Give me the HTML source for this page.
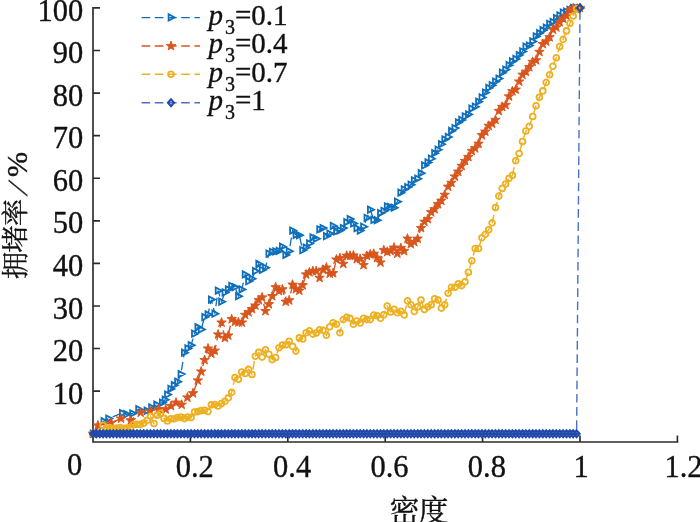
<!DOCTYPE html>
<html lang="zh">
<head>
<meta charset="utf-8">
<title>拥堵率 / 密度</title>
<style>
html,body{margin:0;padding:0;background:#fff}
body{width:700px;height:522px;overflow:hidden}
svg{display:block;will-change:transform;opacity:.999}
</style>
</head>
<body>
<svg width="700" height="522" viewBox="0 0 700 522" role="img">
<rect width="700" height="522" fill="#fff"/>
<g stroke="#2b2b2b" stroke-width="1.65" fill="none" stroke-linecap="butt">
<path d="M93 7.0V442 H678.3"/>
<path d="M93 391.1h7M93 348.5h7M93 306h7M93 263.4h7M93 220.8h7M93 178.2h7M93 135.6h7M93 93.1h7M93 50.5h7M93 7.9h7M190.4 442v-6.5M287.8 442v-6.5M385.2 442v-6.5M482.6 442v-6.5M580 442v-6.5M677.4 442v-6.5"/>
</g>
<g fill="none" stroke="#0f6fba">
<polyline points="93,433.7 103.9,421.1 108.6,418.6 122.3,413 126.6,414.3 132.6,413.4 138.6,409.1 147,410.7 151.5,407.3 156.6,404.7 162.3,402.6 165,399.6 167.4,394.5 170.8,389 174.2,385.1 177.5,381.8 180.9,374.1 184.3,352.8 187.7,348.4 191.1,345.1 194.5,333.6 197.8,327.2 201.2,329.4 204.6,317 208,314.4 211.4,299.6 214.8,313.6 218.1,290.6 221.5,301.7 224.9,292.4 228.3,289.4 231.7,285.9 235,287 238.4,296.2 241.8,289.4 245.2,274.5 248.6,281.3 252,278.8 255.3,271 258.7,263.8 262.1,269.9 265.5,267.6 268.9,253.6 272.2,251.9 275.6,251.5 279,250.9 282.4,246.8 285.8,254.9 289.2,251.2 292.5,230.6 295.9,234.8 299.3,235.3 302.7,250.2 306.1,247.5 309.4,243.4 312.8,237.4 316.2,238.7 319.6,229.3 323,228 326.4,236.1 329.7,233.5 333.1,225.9 336.5,231.4 339.9,230.3 343.3,228 346.6,222.2 350,219.1 353.4,223.4 356.8,228.3 360.2,230.6 363.6,226.6 366.9,217.8 370.3,209.7 373.7,219.9 377.1,220.1 380.5,213.1 383.8,210.9 387.2,206.3 390.6,207.2 394,207.8 397.4,201.6 400.8,192.7 404.1,189.5 407.5,187.1 410.9,184.6 414.3,180.5 417.7,178.6 421,173.1 424.4,165.4 427.8,162.5 431.2,158.6 434.6,153.2 438,149.7 441.3,144.3 444.7,139.5 448.1,136.9 451.5,131 454.9,128.1 458.2,122.4 461.6,120 465,116.5 468.4,114.3 471.8,108.6 475.2,106.7 478.5,101.8 481.9,97.3 485.3,92.5 488.7,88 492.1,85.1 495.5,81.6 498.8,78.6 502.2,72.6 505.6,69.6 509,65.2 512.4,61.5 515.7,59 519.1,55 522.5,51.4 525.9,46.6 529.3,45.5 532.7,41.3 536,36.4 539.4,33 542.8,30.3 546.2,27.7 549.6,23.8 552.9,22 556.3,18 559.7,15.5 563.1,12.6 566.5,11.6 569.9,9.9 573.2,7.9 576.6,7.9 580,7.9" stroke="#0f6fba" stroke-width="1.3" stroke-dasharray="8.6 4.6"/>
<path d="M90.6 430.6l0 6.3l6.1 -3.1zM101.5 418l0 6.3l6.1 -3.1zM106.2 415.4l0 6.3l6.1 -3.1zM119.9 409.9l0 6.3l6.1 -3.1zM124.2 411.1l0 6.3l6.1 -3.1zM130.2 410.3l0 6.3l6.1 -3.1zM136.2 406l0 6.3l6.1 -3.1zM144.6 407.6l0 6.3l6.1 -3.1zM149.1 404.2l0 6.3l6.1 -3.1zM154.2 401.6l0 6.3l6.1 -3.1zM159.9 399.5l0 6.3l6.1 -3.1zM162.6 396.5l0 6.3l6.1 -3.1zM165 391.4l0 6.3l6.1 -3.1zM168.3 385.8l0 6.3l6.1 -3.1zM171.7 382l0 6.3l6.1 -3.1zM175.1 378.6l0 6.3l6.1 -3.1zM178.5 370.9l0 6.3l6.1 -3.1zM181.9 349.6l0 6.3l6.1 -3.1zM185.3 345.3l0 6.3l6.1 -3.1zM188.6 342l0 6.3l6.1 -3.1zM192 330.5l0 6.3l6.1 -3.1zM195.4 324.1l0 6.3l6.1 -3.1zM198.8 326.2l0 6.3l6.1 -3.1zM202.2 313.9l0 6.3l6.1 -3.1zM205.5 311.3l0 6.3l6.1 -3.1zM208.9 296.4l0 6.3l6.1 -3.1zM212.3 310.5l0 6.3l6.1 -3.1zM215.7 287.5l0 6.3l6.1 -3.1zM219.1 298.6l0 6.3l6.1 -3.1zM222.5 289.2l0 6.3l6.1 -3.1zM225.8 286.2l0 6.3l6.1 -3.1zM229.2 282.8l0 6.3l6.1 -3.1zM232.6 283.9l0 6.3l6.1 -3.1zM236 293l0 6.3l6.1 -3.1zM239.4 286.2l0 6.3l6.1 -3.1zM242.7 271.3l0 6.3l6.1 -3.1zM246.1 278.1l0 6.3l6.1 -3.1zM249.5 275.6l0 6.3l6.1 -3.1zM252.9 267.9l0 6.3l6.1 -3.1zM256.3 260.7l0 6.3l6.1 -3.1zM259.7 266.8l0 6.3l6.1 -3.1zM263 264.5l0 6.3l6.1 -3.1zM266.4 250.4l0 6.3l6.1 -3.1zM269.8 248.8l0 6.3l6.1 -3.1zM273.2 248.3l0 6.3l6.1 -3.1zM276.6 247.7l0 6.3l6.1 -3.1zM279.9 243.6l0 6.3l6.1 -3.1zM283.3 251.7l0 6.3l6.1 -3.1zM286.7 248l0 6.3l6.1 -3.1zM290.1 227.4l0 6.3l6.1 -3.1zM293.5 231.7l0 6.3l6.1 -3.1zM296.9 232.1l0 6.3l6.1 -3.1zM300.2 247l0 6.3l6.1 -3.1zM303.6 244.4l0 6.3l6.1 -3.1zM307 240.2l0 6.3l6.1 -3.1zM310.4 234.3l0 6.3l6.1 -3.1zM313.8 235.6l0 6.3l6.1 -3.1zM317.2 226.2l0 6.3l6.1 -3.1zM320.5 224.9l0 6.3l6.1 -3.1zM323.9 233l0 6.3l6.1 -3.1zM327.3 230.4l0 6.3l6.1 -3.1zM330.7 222.8l0 6.3l6.1 -3.1zM334.1 228.3l0 6.3l6.1 -3.1zM337.4 227.2l0 6.3l6.1 -3.1zM340.8 224.9l0 6.3l6.1 -3.1zM344.2 219.1l0 6.3l6.1 -3.1zM347.6 215.9l0 6.3l6.1 -3.1zM351 220.2l0 6.3l6.1 -3.1zM354.4 225.1l0 6.3l6.1 -3.1zM357.7 227.4l0 6.3l6.1 -3.1zM361.1 223.5l0 6.3l6.1 -3.1zM364.5 214.7l0 6.3l6.1 -3.1zM367.9 206.6l0 6.3l6.1 -3.1zM371.3 216.8l0 6.3l6.1 -3.1zM374.6 217l0 6.3l6.1 -3.1zM378 210l0 6.3l6.1 -3.1zM381.4 207.7l0 6.3l6.1 -3.1zM384.8 203.2l0 6.3l6.1 -3.1zM388.2 204l0 6.3l6.1 -3.1zM391.6 204.6l0 6.3l6.1 -3.1zM394.9 198.5l0 6.3l6.1 -3.1zM398.3 189.5l0 6.3l6.1 -3.1zM401.7 186.3l0 6.3l6.1 -3.1zM405.1 184l0 6.3l6.1 -3.1zM408.5 181.5l0 6.3l6.1 -3.1zM411.8 177.3l0 6.3l6.1 -3.1zM415.2 175.5l0 6.3l6.1 -3.1zM418.6 170l0 6.3l6.1 -3.1zM422 162.3l0 6.3l6.1 -3.1zM425.4 159.3l0 6.3l6.1 -3.1zM428.8 155.5l0 6.3l6.1 -3.1zM432.1 150l0 6.3l6.1 -3.1zM435.5 146.5l0 6.3l6.1 -3.1zM438.9 141.1l0 6.3l6.1 -3.1zM442.3 136.3l0 6.3l6.1 -3.1zM445.7 133.7l0 6.3l6.1 -3.1zM449 127.8l0 6.3l6.1 -3.1zM452.4 124.9l0 6.3l6.1 -3.1zM455.8 119.3l0 6.3l6.1 -3.1zM459.2 116.8l0 6.3l6.1 -3.1zM462.6 113.3l0 6.3l6.1 -3.1zM466 111.2l0 6.3l6.1 -3.1zM469.3 105.5l0 6.3l6.1 -3.1zM472.7 103.5l0 6.3l6.1 -3.1zM476.1 98.6l0 6.3l6.1 -3.1zM479.5 94.2l0 6.3l6.1 -3.1zM482.9 89.4l0 6.3l6.1 -3.1zM486.2 84.8l0 6.3l6.1 -3.1zM489.6 82l0 6.3l6.1 -3.1zM493 78.4l0 6.3l6.1 -3.1zM496.4 75.4l0 6.3l6.1 -3.1zM499.8 69.5l0 6.3l6.1 -3.1zM503.2 66.4l0 6.3l6.1 -3.1zM506.5 62l0 6.3l6.1 -3.1zM509.9 58.3l0 6.3l6.1 -3.1zM513.3 55.8l0 6.3l6.1 -3.1zM516.7 51.9l0 6.3l6.1 -3.1zM520.1 48.3l0 6.3l6.1 -3.1zM523.4 43.5l0 6.3l6.1 -3.1zM526.8 42.4l0 6.3l6.1 -3.1zM530.2 38.2l0 6.3l6.1 -3.1zM533.6 33.2l0 6.3l6.1 -3.1zM537 29.9l0 6.3l6.1 -3.1zM540.4 27.1l0 6.3l6.1 -3.1zM543.7 24.6l0 6.3l6.1 -3.1zM547.1 20.7l0 6.3l6.1 -3.1zM550.5 18.8l0 6.3l6.1 -3.1zM553.9 14.9l0 6.3l6.1 -3.1zM557.3 12.3l0 6.3l6.1 -3.1zM560.7 9.4l0 6.3l6.1 -3.1zM564 8.5l0 6.3l6.1 -3.1zM567.4 6.7l0 6.3l6.1 -3.1zM570.8 4.7l0 6.3l6.1 -3.1zM574.2 4.7l0 6.3l6.1 -3.1zM577.6 4.7l0 6.3l6.1 -3.1z" stroke-width="1.8" stroke-linejoin="miter" fill="none"/>
</g>
<g fill="none" stroke="#d8551c">
<polyline points="93,433.7 97.9,425.4 111.1,422.8 121,418.6 130.8,420.3 140.7,412.6 150,411.1 158.9,409 165.7,409.4 171,406 176,402.6 181.7,404.7 187.4,397.5 193,393.2 197.8,380.5 201.2,371.5 204.6,360 208,348.5 211.4,353.7 214.8,350.7 218.1,334.5 221.5,322.6 224.9,337.9 228.3,335.5 231.7,319.2 235,321.8 238.4,322.3 241.8,322.6 245.2,314.9 248.6,312.3 252,309 255.3,305.5 258.7,300.1 262.1,297.4 265.5,311.1 268.9,304.3 272.2,296.2 275.6,287.2 279,291.1 282.4,289.4 285.8,301.7 289.2,300.3 292.5,284.7 295.9,289.1 299.3,290.6 302.7,285.2 306.1,274.5 309.4,272.3 312.8,271 316.2,271.1 319.6,277.9 323,269.7 326.4,267.6 329.7,273.6 333.1,273.2 336.5,259.5 339.9,258.1 343.3,263.8 346.6,255.7 350,255.7 353.4,255.5 356.8,259.1 360.2,258.9 363.6,265.1 366.9,255.9 370.3,254.4 373.7,253.8 377.1,257.8 380.5,262.5 383.8,250.2 387.2,251.9 390.6,251 394,247.6 397.4,253.6 400.8,248 404.1,251 407.5,238.7 410.9,244.1 414.3,242.1 417.7,238.7 421,228 424.4,221.8 427.8,219.1 431.2,212.3 434.6,209.2 438,204.2 441.3,200.6 444.7,194.8 448.1,186.7 451.5,182.8 454.9,176.5 458.2,171.6 461.6,165.9 465,161 468.4,156.9 471.8,151 475.2,148.3 478.5,143.7 481.9,135.2 485.3,131.6 488.7,125.8 492.1,123.7 495.5,119.9 498.8,110.9 502.2,106.8 505.6,105 509,96.5 512.4,91.3 515.7,89.7 519.1,81.6 522.5,74.8 525.9,71.8 529.3,67.1 532.7,61.9 536,60.3 539.4,51.9 542.8,44.1 546.2,41.6 549.6,37.2 552.9,29.6 556.3,27.4 559.7,22.1 563.1,18.5 566.5,15.8 569.9,10 573.2,8.5 576.6,9.3 580,7.9" stroke="#d8551c" stroke-width="1.4" stroke-dasharray="8.6 4.6"/>
<path d="M93 428.7L94.2 432.1L97.8 432.2L94.9 434.3L95.9 437.7L93 435.7L90.1 437.7L91.1 434.3L88.2 432.2L91.8 432.1zM97.9 420.4L99.1 423.8L102.7 423.9L99.8 426L100.8 429.4L97.9 427.4L95 429.4L96 426L93.1 423.9L96.7 423.8zM111.1 417.8L112.3 421.2L115.9 421.3L113 423.5L114 426.9L111.1 424.8L108.2 426.9L109.2 423.5L106.3 421.3L109.9 421.2zM121 413.6L122.2 417L125.8 417L122.9 419.2L123.9 422.6L121 420.6L118.1 422.6L119.1 419.2L116.2 417L119.8 417zM130.8 415.3L132 418.7L135.6 418.7L132.7 420.9L133.7 424.3L130.8 422.3L127.9 424.3L128.9 420.9L126 418.7L129.6 418.7zM140.7 407.6L141.9 411L145.5 411.1L142.6 413.2L143.6 416.7L140.7 414.6L137.8 416.7L138.8 413.2L135.9 411.1L139.5 411zM150 406.1L151.2 409.5L154.8 409.6L151.9 411.8L152.9 415.2L150 413.1L147.1 415.2L148.1 411.8L145.2 409.6L148.8 409.5zM158.9 404L160.1 407.4L163.7 407.5L160.8 409.6L161.8 413L158.9 411L156 413L157 409.6L154.1 407.5L157.7 407.4zM165.7 404.4L166.9 407.8L170.5 407.9L167.6 410L168.6 413.5L165.7 411.4L162.8 413.5L163.8 410L160.9 407.9L164.5 407.8zM171 401L172.2 404.4L175.8 404.5L172.9 406.6L173.9 410.1L171 408L168.1 410.1L169.1 406.6L166.2 404.5L169.8 404.4zM176 397.6L177.2 401L180.8 401.1L177.9 403.2L178.9 406.7L176 404.6L173.1 406.7L174.1 403.2L171.2 401.1L174.8 401zM181.7 399.7L182.9 403.1L186.5 403.2L183.6 405.4L184.6 408.8L181.7 406.7L178.8 408.8L179.8 405.4L176.9 403.2L180.5 403.1zM187.4 392.5L188.6 395.9L192.2 396L189.3 398.1L190.3 401.6L187.4 399.5L184.5 401.6L185.5 398.1L182.6 396L186.2 395.9zM193 388.2L194.2 391.6L197.8 391.7L194.9 393.9L195.9 397.3L193 395.2L190.1 397.3L191.1 393.9L188.2 391.7L191.8 391.6zM197.8 375.5L199 378.9L202.6 378.9L199.7 381.1L200.8 384.5L197.8 382.5L194.9 384.5L195.9 381.1L193.1 378.9L196.7 378.9zM201.2 366.5L202.4 369.9L206 370L203.1 372.2L204.2 375.6L201.2 373.5L198.3 375.6L199.3 372.2L196.5 370L200 369.9zM204.6 355L205.8 358.4L209.4 358.5L206.5 360.7L207.5 364.1L204.6 362L201.7 364.1L202.7 360.7L199.8 358.5L203.4 358.4zM208 343.5L209.2 346.9L212.7 347L209.9 349.2L210.9 352.6L208 350.5L205 352.6L206.1 349.2L203.2 347L206.8 346.9zM211.4 348.7L212.5 352.1L216.1 352.2L213.3 354.4L214.3 357.8L211.4 355.7L208.4 357.8L209.5 354.4L206.6 352.2L210.2 352.1zM214.8 345.7L215.9 349.1L219.5 349.1L216.7 351.3L217.7 354.7L214.8 352.7L211.8 354.7L212.8 351.3L210 349.1L213.6 349.1zM218.1 329.5L219.3 332.9L222.9 332.9L220 335.1L221.1 338.5L218.1 336.5L215.2 338.5L216.2 335.1L213.4 332.9L217 332.9zM221.5 317.6L222.7 320.9L226.3 321L223.4 323.2L224.5 326.6L221.5 324.6L218.6 326.6L219.6 323.2L216.8 321L220.3 320.9zM224.9 332.9L226.1 336.3L229.7 336.3L226.8 338.5L227.8 341.9L224.9 339.9L222 341.9L223 338.5L220.1 336.3L223.7 336.3zM228.3 330.5L229.5 333.9L233 334L230.2 336.2L231.2 339.6L228.3 337.5L225.3 339.6L226.4 336.2L223.5 334L227.1 333.9zM231.7 314.2L232.8 317.5L236.4 317.6L233.6 319.8L234.6 323.2L231.7 321.2L228.7 323.2L229.8 319.8L226.9 317.6L230.5 317.5zM235 316.8L236.2 320.2L239.8 320.2L236.9 322.4L238 325.8L235 323.8L232.1 325.8L233.1 322.4L230.3 320.2L233.9 320.2zM238.4 317.3L239.6 320.7L243.2 320.8L240.3 322.9L241.4 326.4L238.4 324.3L235.5 326.4L236.5 322.9L233.7 320.8L237.2 320.7zM241.8 317.6L243 320.9L246.6 321L243.7 323.2L244.7 326.6L241.8 324.6L238.9 326.6L239.9 323.2L237.1 321L240.6 320.9zM245.2 309.9L246.4 313.3L249.9 313.3L247.1 315.5L248.1 318.9L245.2 316.9L242.2 318.9L243.3 315.5L240.4 313.3L244 313.3zM248.6 307.3L249.7 310.7L253.3 310.8L250.5 313L251.5 316.4L248.6 314.3L245.6 316.4L246.7 313L243.8 310.8L247.4 310.7zM252 304L253.1 307.4L256.7 307.5L253.9 309.7L254.9 313.1L252 311L249 313.1L250 309.7L247.2 307.5L250.8 307.4zM255.3 300.5L256.5 303.9L260.1 304L257.2 306.2L258.3 309.6L255.3 307.5L252.4 309.6L253.4 306.2L250.6 304L254.2 303.9zM258.7 295.1L259.9 298.4L263.5 298.5L260.6 300.7L261.7 304.1L258.7 302.1L255.8 304.1L256.8 300.7L254 298.5L257.5 298.4zM262.1 292.4L263.3 295.8L266.9 295.9L264 298.1L265 301.5L262.1 299.4L259.2 301.5L260.2 298.1L257.3 295.9L260.9 295.8zM265.5 306.1L266.7 309.5L270.2 309.5L267.4 311.7L268.4 315.1L265.5 313.1L262.5 315.1L263.6 311.7L260.7 309.5L264.3 309.5zM268.9 299.3L270 302.6L273.6 302.7L270.8 304.9L271.8 308.3L268.9 306.3L265.9 308.3L267 304.9L264.1 302.7L267.7 302.6zM272.2 291.2L273.4 294.5L277 294.6L274.1 296.8L275.2 300.2L272.2 298.2L269.3 300.2L270.3 296.8L267.5 294.6L271.1 294.5zM275.6 282.2L276.8 285.6L280.4 285.7L277.5 287.8L278.6 291.3L275.6 289.2L272.7 291.3L273.7 287.8L270.9 285.7L274.4 285.6zM279 286.1L280.2 289.4L283.8 289.5L280.9 291.7L281.9 295.1L279 293.1L276.1 295.1L277.1 291.7L274.3 289.5L277.8 289.4zM282.4 284.4L283.6 287.7L287.1 287.8L284.3 290L285.3 293.4L282.4 291.4L279.4 293.4L280.5 290L277.6 287.8L281.2 287.7zM285.8 296.7L286.9 300.1L290.5 300.2L287.7 302.3L288.7 305.7L285.8 303.7L282.8 305.7L283.9 302.3L281 300.2L284.6 300.1zM289.2 295.3L290.3 298.7L293.9 298.8L291.1 300.9L292.1 304.4L289.2 302.3L286.2 304.4L287.3 300.9L284.4 298.8L288 298.7zM292.5 279.7L293.7 283.1L297.3 283.1L294.4 285.3L295.5 288.7L292.5 286.7L289.6 288.7L290.6 285.3L287.8 283.1L291.4 283.1zM295.9 284.1L297.1 287.5L300.7 287.6L297.8 289.8L298.9 293.2L295.9 291.1L293 293.2L294 289.8L291.2 287.6L294.7 287.5zM299.3 285.6L300.5 289L304.1 289.1L301.2 291.2L302.2 294.7L299.3 292.6L296.4 294.7L297.4 291.2L294.5 289.1L298.1 289zM302.7 280.2L303.9 283.6L307.4 283.7L304.6 285.8L305.6 289.2L302.7 287.2L299.7 289.2L300.8 285.8L297.9 283.7L301.5 283.6zM306.1 269.5L307.2 272.8L310.8 272.9L308 275.1L309 278.5L306.1 276.5L303.1 278.5L304.2 275.1L301.3 272.9L304.9 272.8zM309.4 267.3L310.6 270.7L314.2 270.8L311.3 272.9L312.4 276.3L309.4 274.3L306.5 276.3L307.5 272.9L304.7 270.8L308.3 270.7zM312.8 266L314 269.4L317.6 269.5L314.7 271.7L315.8 275.1L312.8 273L309.9 275.1L310.9 271.7L308.1 269.5L311.7 269.4zM316.2 266.1L317.4 269.5L321 269.6L318.1 271.7L319.1 275.1L316.2 273.1L313.3 275.1L314.3 271.7L311.5 269.6L315 269.5zM319.6 272.9L320.8 276.2L324.3 276.3L321.5 278.5L322.5 281.9L319.6 279.9L316.7 281.9L317.7 278.5L314.8 276.3L318.4 276.2zM323 264.7L324.1 268.1L327.7 268.1L324.9 270.3L325.9 273.7L323 271.7L320 273.7L321.1 270.3L318.2 268.1L321.8 268.1zM326.4 262.6L327.5 266L331.1 266.1L328.3 268.3L329.3 271.7L326.4 269.6L323.4 271.7L324.5 268.3L321.6 266.1L325.2 266zM329.7 268.6L330.9 272L334.5 272.1L331.6 274.2L332.7 277.7L329.7 275.6L326.8 277.7L327.8 274.2L325 272.1L328.6 272zM333.1 268.2L334.3 271.6L337.9 271.6L335 273.8L336.1 277.2L333.1 275.2L330.2 277.2L331.2 273.8L328.4 271.6L331.9 271.6zM336.5 254.5L337.7 257.9L341.3 258L338.4 260.2L339.4 263.6L336.5 261.5L333.6 263.6L334.6 260.2L331.7 258L335.3 257.9zM339.9 253.1L341.1 256.5L344.6 256.6L341.8 258.8L342.8 262.2L339.9 260.1L336.9 262.2L338 258.8L335.1 256.6L338.7 256.5zM343.3 258.8L344.4 262.2L348 262.3L345.2 264.4L346.2 267.9L343.3 265.8L340.3 267.9L341.4 264.4L338.5 262.3L342.1 262.2zM346.6 250.7L347.8 254.1L351.4 254.2L348.5 256.4L349.6 259.8L346.6 257.7L343.7 259.8L344.7 256.4L341.9 254.2L345.5 254.1zM350 250.7L351.2 254.1L354.8 254.2L351.9 256.3L353 259.8L350 257.7L347.1 259.8L348.1 256.3L345.3 254.2L348.9 254.1zM353.4 250.5L354.6 253.8L358.2 253.9L355.3 256.1L356.3 259.5L353.4 257.5L350.5 259.5L351.5 256.1L348.7 253.9L352.2 253.8zM356.8 254.1L358 257.5L361.5 257.6L358.7 259.7L359.7 263.2L356.8 261.1L353.9 263.2L354.9 259.7L352 257.6L355.6 257.5zM360.2 253.9L361.3 257.3L364.9 257.4L362.1 259.5L363.1 262.9L360.2 260.9L357.2 262.9L358.3 259.5L355.4 257.4L359 257.3zM363.6 260.1L364.7 263.5L368.3 263.5L365.5 265.7L366.5 269.1L363.6 267.1L360.6 269.1L361.7 265.7L358.8 263.5L362.4 263.5zM366.9 250.9L368.1 254.3L371.7 254.3L368.8 256.5L369.9 259.9L366.9 257.9L364 259.9L365 256.5L362.2 254.3L365.8 254.3zM370.3 249.4L371.5 252.8L375.1 252.9L372.2 255.1L373.3 258.5L370.3 256.4L367.4 258.5L368.4 255.1L365.6 252.9L369.1 252.8zM373.7 248.8L374.9 252.1L378.5 252.2L375.6 254.4L376.6 257.8L373.7 255.8L370.8 257.8L371.8 254.4L368.9 252.2L372.5 252.1zM377.1 252.8L378.3 256.2L381.8 256.3L379 258.5L380 261.9L377.1 259.8L374.1 261.9L375.2 258.5L372.3 256.3L375.9 256.2zM380.5 257.5L381.6 260.9L385.2 261L382.4 263.1L383.4 266.6L380.5 264.5L377.5 266.6L378.6 263.1L375.7 261L379.3 260.9zM383.8 245.2L385 248.6L388.6 248.6L385.7 250.8L386.8 254.2L383.8 252.2L380.9 254.2L381.9 250.8L379.1 248.6L382.7 248.6zM387.2 246.9L388.4 250.3L392 250.4L389.1 252.5L390.2 256L387.2 253.9L384.3 256L385.3 252.5L382.5 250.4L386.1 250.3zM390.6 246L391.8 249.4L395.4 249.5L392.5 251.6L393.6 255.1L390.6 253L387.7 255.1L388.7 251.6L385.9 249.5L389.4 249.4zM394 242.6L395.2 246L398.7 246.1L395.9 248.2L396.9 251.7L394 249.6L391.1 251.7L392.1 248.2L389.2 246.1L392.8 246zM397.4 248.6L398.6 252L402.1 252L399.3 254.2L400.3 257.6L397.4 255.6L394.4 257.6L395.5 254.2L392.6 252L396.2 252zM400.8 243L401.9 246.4L405.5 246.4L402.7 248.6L403.7 252L400.8 250L397.8 252L398.9 248.6L396 246.4L399.6 246.4zM404.1 246L405.3 249.4L408.9 249.5L406 251.6L407.1 255.1L404.1 253L401.2 255.1L402.2 251.6L399.4 249.5L403 249.4zM407.5 233.7L408.7 237.1L412.3 237.1L409.4 239.3L410.5 242.7L407.5 240.7L404.6 242.7L405.6 239.3L402.8 237.1L406.3 237.1zM410.9 239.1L412.1 242.4L415.7 242.5L412.8 244.7L413.8 248.1L410.9 246.1L408 248.1L409 244.7L406.1 242.5L409.7 242.4zM414.3 237.1L415.5 240.5L419 240.5L416.2 242.7L417.2 246.1L414.3 244.1L411.3 246.1L412.4 242.7L409.5 240.5L413.1 240.5zM417.7 233.7L418.8 237.1L422.4 237.1L419.6 239.3L420.6 242.7L417.7 240.7L414.7 242.7L415.8 239.3L412.9 237.1L416.5 237.1zM421 223L422.2 226.4L425.8 226.5L423 228.7L424 232.1L421 230L418.1 232.1L419.1 228.7L416.3 226.5L419.9 226.4zM424.4 216.8L425.6 220.1L429.2 220.2L426.3 222.4L427.4 225.8L424.4 223.8L421.5 225.8L422.5 222.4L419.7 220.2L423.3 220.1zM427.8 214.1L429 217.5L432.6 217.6L429.7 219.7L430.8 223.1L427.8 221.1L424.9 223.1L425.9 219.7L423.1 217.6L426.6 217.5zM431.2 207.3L432.4 210.7L435.9 210.7L433.1 212.9L434.1 216.3L431.2 214.3L428.3 216.3L429.3 212.9L426.4 210.7L430 210.7zM434.6 204.2L435.8 207.6L439.3 207.7L436.5 209.8L437.5 213.2L434.6 211.2L431.6 213.2L432.7 209.8L429.8 207.7L433.4 207.6zM438 199.2L439.1 202.6L442.7 202.6L439.9 204.8L440.9 208.2L438 206.2L435 208.2L436.1 204.8L433.2 202.6L436.8 202.6zM441.3 195.6L442.5 199L446.1 199.1L443.2 201.3L444.3 204.7L441.3 202.6L438.4 204.7L439.4 201.3L436.6 199.1L440.2 199zM444.7 189.8L445.9 193.2L449.5 193.3L446.6 195.4L447.7 198.9L444.7 196.8L441.8 198.9L442.8 195.4L440 193.3L443.5 193.2zM448.1 181.7L449.3 185.1L452.9 185.2L450 187.4L451 190.8L448.1 188.7L445.2 190.8L446.2 187.4L443.3 185.2L446.9 185.1zM451.5 177.8L452.7 181.2L456.2 181.3L453.4 183.5L454.4 186.9L451.5 184.8L448.5 186.9L449.6 183.5L446.7 181.3L450.3 181.2zM454.9 171.5L456 174.9L459.6 175L456.8 177.1L457.8 180.6L454.9 178.5L451.9 180.6L453 177.1L450.1 175L453.7 174.9zM458.2 166.6L459.4 170L463 170L460.2 172.2L461.2 175.6L458.2 173.6L455.3 175.6L456.3 172.2L453.5 170L457.1 170zM461.6 160.9L462.8 164.3L466.4 164.3L463.5 166.5L464.6 169.9L461.6 167.9L458.7 169.9L459.7 166.5L456.9 164.3L460.5 164.3zM465 156L466.2 159.4L469.8 159.5L466.9 161.6L468 165.1L465 163L462.1 165.1L463.1 161.6L460.3 159.5L463.8 159.4zM468.4 151.9L469.6 155.3L473.2 155.4L470.3 157.5L471.3 161L468.4 158.9L465.5 161L466.5 157.5L463.6 155.4L467.2 155.3zM471.8 146L473 149.4L476.5 149.4L473.7 151.6L474.7 155L471.8 153L468.8 155L469.9 151.6L467 149.4L470.6 149.4zM475.2 143.3L476.3 146.7L479.9 146.7L477.1 148.9L478.1 152.3L475.2 150.3L472.2 152.3L473.3 148.9L470.4 146.7L474 146.7zM478.5 138.7L479.7 142.1L483.3 142.2L480.4 144.3L481.5 147.8L478.5 145.7L475.6 147.8L476.6 144.3L473.8 142.2L477.4 142.1zM481.9 130.2L483.1 133.6L486.7 133.7L483.8 135.8L484.9 139.3L481.9 137.2L479 139.3L480 135.8L477.2 133.7L480.7 133.6zM485.3 126.6L486.5 130L490.1 130L487.2 132.2L488.2 135.6L485.3 133.6L482.4 135.6L483.4 132.2L480.6 130L484.1 130zM488.7 120.8L489.9 124.2L493.4 124.3L490.6 126.5L491.6 129.9L488.7 127.8L485.7 129.9L486.8 126.5L483.9 124.3L487.5 124.2zM492.1 118.7L493.2 122.1L496.8 122.2L494 124.3L495 127.8L492.1 125.7L489.1 127.8L490.2 124.3L487.3 122.2L490.9 122.1zM495.5 114.9L496.6 118.3L500.2 118.3L497.4 120.5L498.4 123.9L495.5 121.9L492.5 123.9L493.5 120.5L490.7 118.3L494.3 118.3zM498.8 105.9L500 109.3L503.6 109.4L500.7 111.6L501.8 115L498.8 112.9L495.9 115L496.9 111.6L494.1 109.4L497.7 109.3zM502.2 101.8L503.4 105.2L507 105.3L504.1 107.5L505.2 110.9L502.2 108.8L499.3 110.9L500.3 107.5L497.5 105.3L501 105.2zM505.6 100L506.8 103.4L510.4 103.4L507.5 105.6L508.5 109L505.6 107L502.7 109L503.7 105.6L500.8 103.4L504.4 103.4zM509 91.5L510.2 94.8L513.7 94.9L510.9 97.1L511.9 100.5L509 98.5L506 100.5L507.1 97.1L504.2 94.9L507.8 94.8zM512.4 86.3L513.5 89.7L517.1 89.7L514.3 91.9L515.3 95.3L512.4 93.3L509.4 95.3L510.5 91.9L507.6 89.7L511.2 89.7zM515.7 84.7L516.9 88L520.5 88.1L517.6 90.3L518.7 93.7L515.7 91.7L512.8 93.7L513.8 90.3L511 88.1L514.6 88zM519.1 76.6L520.3 79.9L523.9 80L521 82.2L522.1 85.6L519.1 83.6L516.2 85.6L517.2 82.2L514.4 80L517.9 79.9zM522.5 69.8L523.7 73.1L527.3 73.2L524.4 75.4L525.4 78.8L522.5 76.8L519.6 78.8L520.6 75.4L517.8 73.2L521.3 73.1zM525.9 66.8L527.1 70.2L530.6 70.2L527.8 72.4L528.8 75.8L525.9 73.8L522.9 75.8L524 72.4L521.1 70.2L524.7 70.2zM529.3 62.1L530.4 65.5L534 65.6L531.2 67.7L532.2 71.2L529.3 69.1L526.3 71.2L527.4 67.7L524.5 65.6L528.1 65.5zM532.7 56.9L533.8 60.2L537.4 60.3L534.6 62.5L535.6 65.9L532.7 63.9L529.7 65.9L530.8 62.5L527.9 60.3L531.5 60.2zM536 55.3L537.2 58.7L540.8 58.7L537.9 60.9L539 64.3L536 62.3L533.1 64.3L534.1 60.9L531.3 58.7L534.9 58.7zM539.4 46.9L540.6 50.3L544.2 50.3L541.3 52.5L542.4 55.9L539.4 53.9L536.5 55.9L537.5 52.5L534.7 50.3L538.2 50.3zM542.8 39.1L544 42.5L547.6 42.5L544.7 44.7L545.7 48.1L542.8 46.1L539.9 48.1L540.9 44.7L538 42.5L541.6 42.5zM546.2 36.6L547.4 39.9L550.9 40L548.1 42.2L549.1 45.6L546.2 43.6L543.2 45.6L544.3 42.2L541.4 40L545 39.9zM549.6 32.2L550.7 35.6L554.3 35.7L551.5 37.8L552.5 41.2L549.6 39.2L546.6 41.2L547.7 37.8L544.8 35.7L548.4 35.6zM552.9 24.6L554.1 28L557.7 28.1L554.8 30.2L555.9 33.7L552.9 31.6L550 33.7L551 30.2L548.2 28.1L551.8 28zM556.3 22.4L557.5 25.7L561.1 25.8L558.2 28L559.3 31.4L556.3 29.4L553.4 31.4L554.4 28L551.6 25.8L555.2 25.7zM559.7 17.1L560.9 20.5L564.5 20.6L561.6 22.8L562.6 26.2L559.7 24.1L556.8 26.2L557.8 22.8L555 20.6L558.5 20.5zM563.1 13.5L564.3 16.9L567.8 17L565 19.2L566 22.6L563.1 20.5L560.2 22.6L561.2 19.2L558.3 17L561.9 16.9zM566.5 10.8L567.6 14.2L571.2 14.2L568.4 16.4L569.4 19.8L566.5 17.8L563.5 19.8L564.6 16.4L561.7 14.2L565.3 14.2zM569.9 5L571 8.4L574.6 8.5L571.8 10.6L572.8 14.1L569.9 12L566.9 14.1L568 10.6L565.1 8.5L568.7 8.4zM573.2 3.5L574.4 6.9L578 7L575.1 9.1L576.2 12.5L573.2 10.5L570.3 12.5L571.3 9.1L568.5 7L572.1 6.9zM576.6 4.3L577.8 7.7L581.4 7.8L578.5 9.9L579.6 13.4L576.6 11.3L573.7 13.4L574.7 9.9L571.9 7.8L575.4 7.7zM580 2.9L581.2 6.3L584.8 6.4L581.9 8.5L582.9 11.9L580 9.9L577.1 11.9L578.1 8.5L575.2 6.4L578.8 6.3z" stroke-width="0.9" stroke-linejoin="miter" fill="#d8551c"/>
</g>
<g fill="none" stroke="#ecb021">
<polyline points="93,433.7 103.1,425.4 106.5,428 109.9,427.5 113.3,428.4 116.7,428 120.1,427.5 123.4,428.4 126.8,428 130.2,427.5 133.6,424.5 137,424.3 140.3,424.4 143.7,423.1 147.1,420.4 150.5,416.2 153.9,423.5 157.3,415.2 160.6,413.3 164,418.4 167.4,420.9 170.8,418.7 174.2,418.8 177.5,417.5 180.9,417.1 184.3,418.6 187.7,417.1 191.1,417.5 194.5,412 197.8,411.6 201.2,410.6 204.6,410.3 208,411.6 211.4,404.7 214.8,404.5 218.1,406 221.5,403.6 224.9,401.3 228.3,397.9 231.7,392.4 235,377.5 238.4,379.2 241.8,372 245.2,373.5 248.6,369.4 252,374.5 255.3,356.2 258.7,352.4 262.1,357.1 265.5,349.8 268.9,354.2 272.2,359.6 275.6,357.5 279,347.7 282.4,345.1 285.8,344.8 289.2,341.3 292.5,346.4 295.9,351.1 299.3,337.9 302.7,338.9 306.1,332.8 309.4,330.8 312.8,334.1 316.2,333 319.6,329.8 323,330.2 326.4,335.3 329.7,326.8 333.1,322.7 336.5,324.3 339.9,332.8 343.3,319.6 346.6,317.4 350,318.3 353.4,324.3 356.8,321 360.2,323 363.6,318.3 366.9,319.6 370.3,319.6 373.7,315.1 377.1,315.8 380.5,318.3 383.8,314.7 387.2,306 390.6,311.9 394,309.3 397.4,312.8 400.8,311.2 404.1,314.9 407.5,300.9 410.9,304.7 414.3,311.5 417.7,306.8 421,300 424.4,309.4 427.8,306.8 431.2,304.7 434.6,298.7 438,300 441.3,308.1 444.7,304.7 448.1,293.2 451.5,287.2 454.9,287.2 458.2,283.8 461.6,285.6 465,281.7 468.4,272.3 471.8,260.8 475.2,248.5 478.5,248.5 481.9,237.8 485.3,234.4 488.7,229.7 492.1,222.9 495.5,207.6 498.8,196.1 502.2,188.4 505.6,184 509,178.2 512.4,175.2 515.7,160.8 519.1,153.5 522.5,141.6 525.9,131 529.3,126.3 532.7,116.5 536,105.8 539.4,97.3 542.8,90.9 546.2,82.4 549.6,74.8 552.9,66.2 556.3,57.7 559.7,46.6 563.1,39.4 566.5,30.9 569.9,23.2 573.2,16 576.6,8.8 580,7.9" stroke="#ecb021" stroke-width="1.4" stroke-dasharray="8.6 4.6"/>
<path d="M90.1 433.7a2.9 2.9 0 1 0 5.8 0a2.9 2.9 0 1 0 -5.8 0zM100.2 425.4a2.9 2.9 0 1 0 5.8 0a2.9 2.9 0 1 0 -5.8 0zM103.6 428a2.9 2.9 0 1 0 5.8 0a2.9 2.9 0 1 0 -5.8 0zM107 427.5a2.9 2.9 0 1 0 5.8 0a2.9 2.9 0 1 0 -5.8 0zM110.4 428.4a2.9 2.9 0 1 0 5.8 0a2.9 2.9 0 1 0 -5.8 0zM113.8 428a2.9 2.9 0 1 0 5.8 0a2.9 2.9 0 1 0 -5.8 0zM117.2 427.5a2.9 2.9 0 1 0 5.8 0a2.9 2.9 0 1 0 -5.8 0zM120.5 428.4a2.9 2.9 0 1 0 5.8 0a2.9 2.9 0 1 0 -5.8 0zM123.9 428a2.9 2.9 0 1 0 5.8 0a2.9 2.9 0 1 0 -5.8 0zM127.3 427.5a2.9 2.9 0 1 0 5.8 0a2.9 2.9 0 1 0 -5.8 0zM130.7 424.5a2.9 2.9 0 1 0 5.8 0a2.9 2.9 0 1 0 -5.8 0zM134.1 424.3a2.9 2.9 0 1 0 5.8 0a2.9 2.9 0 1 0 -5.8 0zM137.4 424.4a2.9 2.9 0 1 0 5.8 0a2.9 2.9 0 1 0 -5.8 0zM140.8 423.1a2.9 2.9 0 1 0 5.8 0a2.9 2.9 0 1 0 -5.8 0zM144.2 420.4a2.9 2.9 0 1 0 5.8 0a2.9 2.9 0 1 0 -5.8 0zM147.6 416.2a2.9 2.9 0 1 0 5.8 0a2.9 2.9 0 1 0 -5.8 0zM151 423.5a2.9 2.9 0 1 0 5.8 0a2.9 2.9 0 1 0 -5.8 0zM154.4 415.2a2.9 2.9 0 1 0 5.8 0a2.9 2.9 0 1 0 -5.8 0zM157.7 413.3a2.9 2.9 0 1 0 5.8 0a2.9 2.9 0 1 0 -5.8 0zM161.1 418.4a2.9 2.9 0 1 0 5.8 0a2.9 2.9 0 1 0 -5.8 0zM164.5 420.9a2.9 2.9 0 1 0 5.8 0a2.9 2.9 0 1 0 -5.8 0zM167.9 418.7a2.9 2.9 0 1 0 5.8 0a2.9 2.9 0 1 0 -5.8 0zM171.3 418.8a2.9 2.9 0 1 0 5.8 0a2.9 2.9 0 1 0 -5.8 0zM174.6 417.5a2.9 2.9 0 1 0 5.8 0a2.9 2.9 0 1 0 -5.8 0zM178 417.1a2.9 2.9 0 1 0 5.8 0a2.9 2.9 0 1 0 -5.8 0zM181.4 418.6a2.9 2.9 0 1 0 5.8 0a2.9 2.9 0 1 0 -5.8 0zM184.8 417.1a2.9 2.9 0 1 0 5.8 0a2.9 2.9 0 1 0 -5.8 0zM188.2 417.5a2.9 2.9 0 1 0 5.8 0a2.9 2.9 0 1 0 -5.8 0zM191.6 412a2.9 2.9 0 1 0 5.8 0a2.9 2.9 0 1 0 -5.8 0zM194.9 411.6a2.9 2.9 0 1 0 5.8 0a2.9 2.9 0 1 0 -5.8 0zM198.3 410.6a2.9 2.9 0 1 0 5.8 0a2.9 2.9 0 1 0 -5.8 0zM201.7 410.3a2.9 2.9 0 1 0 5.8 0a2.9 2.9 0 1 0 -5.8 0zM205.1 411.6a2.9 2.9 0 1 0 5.8 0a2.9 2.9 0 1 0 -5.8 0zM208.5 404.7a2.9 2.9 0 1 0 5.8 0a2.9 2.9 0 1 0 -5.8 0zM211.8 404.5a2.9 2.9 0 1 0 5.8 0a2.9 2.9 0 1 0 -5.8 0zM215.2 406a2.9 2.9 0 1 0 5.8 0a2.9 2.9 0 1 0 -5.8 0zM218.6 403.6a2.9 2.9 0 1 0 5.8 0a2.9 2.9 0 1 0 -5.8 0zM222 401.3a2.9 2.9 0 1 0 5.8 0a2.9 2.9 0 1 0 -5.8 0zM225.4 397.9a2.9 2.9 0 1 0 5.8 0a2.9 2.9 0 1 0 -5.8 0zM228.8 392.4a2.9 2.9 0 1 0 5.8 0a2.9 2.9 0 1 0 -5.8 0zM232.1 377.5a2.9 2.9 0 1 0 5.8 0a2.9 2.9 0 1 0 -5.8 0zM235.5 379.2a2.9 2.9 0 1 0 5.8 0a2.9 2.9 0 1 0 -5.8 0zM238.9 372a2.9 2.9 0 1 0 5.8 0a2.9 2.9 0 1 0 -5.8 0zM242.3 373.5a2.9 2.9 0 1 0 5.8 0a2.9 2.9 0 1 0 -5.8 0zM245.7 369.4a2.9 2.9 0 1 0 5.8 0a2.9 2.9 0 1 0 -5.8 0zM249.1 374.5a2.9 2.9 0 1 0 5.8 0a2.9 2.9 0 1 0 -5.8 0zM252.4 356.2a2.9 2.9 0 1 0 5.8 0a2.9 2.9 0 1 0 -5.8 0zM255.8 352.4a2.9 2.9 0 1 0 5.8 0a2.9 2.9 0 1 0 -5.8 0zM259.2 357.1a2.9 2.9 0 1 0 5.8 0a2.9 2.9 0 1 0 -5.8 0zM262.6 349.8a2.9 2.9 0 1 0 5.8 0a2.9 2.9 0 1 0 -5.8 0zM266 354.2a2.9 2.9 0 1 0 5.8 0a2.9 2.9 0 1 0 -5.8 0zM269.3 359.6a2.9 2.9 0 1 0 5.8 0a2.9 2.9 0 1 0 -5.8 0zM272.7 357.5a2.9 2.9 0 1 0 5.8 0a2.9 2.9 0 1 0 -5.8 0zM276.1 347.7a2.9 2.9 0 1 0 5.8 0a2.9 2.9 0 1 0 -5.8 0zM279.5 345.1a2.9 2.9 0 1 0 5.8 0a2.9 2.9 0 1 0 -5.8 0zM282.9 344.8a2.9 2.9 0 1 0 5.8 0a2.9 2.9 0 1 0 -5.8 0zM286.3 341.3a2.9 2.9 0 1 0 5.8 0a2.9 2.9 0 1 0 -5.8 0zM289.6 346.4a2.9 2.9 0 1 0 5.8 0a2.9 2.9 0 1 0 -5.8 0zM293 351.1a2.9 2.9 0 1 0 5.8 0a2.9 2.9 0 1 0 -5.8 0zM296.4 337.9a2.9 2.9 0 1 0 5.8 0a2.9 2.9 0 1 0 -5.8 0zM299.8 338.9a2.9 2.9 0 1 0 5.8 0a2.9 2.9 0 1 0 -5.8 0zM303.2 332.8a2.9 2.9 0 1 0 5.8 0a2.9 2.9 0 1 0 -5.8 0zM306.5 330.8a2.9 2.9 0 1 0 5.8 0a2.9 2.9 0 1 0 -5.8 0zM309.9 334.1a2.9 2.9 0 1 0 5.8 0a2.9 2.9 0 1 0 -5.8 0zM313.3 333a2.9 2.9 0 1 0 5.8 0a2.9 2.9 0 1 0 -5.8 0zM316.7 329.8a2.9 2.9 0 1 0 5.8 0a2.9 2.9 0 1 0 -5.8 0zM320.1 330.2a2.9 2.9 0 1 0 5.8 0a2.9 2.9 0 1 0 -5.8 0zM323.5 335.3a2.9 2.9 0 1 0 5.8 0a2.9 2.9 0 1 0 -5.8 0zM326.8 326.8a2.9 2.9 0 1 0 5.8 0a2.9 2.9 0 1 0 -5.8 0zM330.2 322.7a2.9 2.9 0 1 0 5.8 0a2.9 2.9 0 1 0 -5.8 0zM333.6 324.3a2.9 2.9 0 1 0 5.8 0a2.9 2.9 0 1 0 -5.8 0zM337 332.8a2.9 2.9 0 1 0 5.8 0a2.9 2.9 0 1 0 -5.8 0zM340.4 319.6a2.9 2.9 0 1 0 5.8 0a2.9 2.9 0 1 0 -5.8 0zM343.7 317.4a2.9 2.9 0 1 0 5.8 0a2.9 2.9 0 1 0 -5.8 0zM347.1 318.3a2.9 2.9 0 1 0 5.8 0a2.9 2.9 0 1 0 -5.8 0zM350.5 324.3a2.9 2.9 0 1 0 5.8 0a2.9 2.9 0 1 0 -5.8 0zM353.9 321a2.9 2.9 0 1 0 5.8 0a2.9 2.9 0 1 0 -5.8 0zM357.3 323a2.9 2.9 0 1 0 5.8 0a2.9 2.9 0 1 0 -5.8 0zM360.7 318.3a2.9 2.9 0 1 0 5.8 0a2.9 2.9 0 1 0 -5.8 0zM364 319.6a2.9 2.9 0 1 0 5.8 0a2.9 2.9 0 1 0 -5.8 0zM367.4 319.6a2.9 2.9 0 1 0 5.8 0a2.9 2.9 0 1 0 -5.8 0zM370.8 315.1a2.9 2.9 0 1 0 5.8 0a2.9 2.9 0 1 0 -5.8 0zM374.2 315.8a2.9 2.9 0 1 0 5.8 0a2.9 2.9 0 1 0 -5.8 0zM377.6 318.3a2.9 2.9 0 1 0 5.8 0a2.9 2.9 0 1 0 -5.8 0zM380.9 314.7a2.9 2.9 0 1 0 5.8 0a2.9 2.9 0 1 0 -5.8 0zM384.3 306a2.9 2.9 0 1 0 5.8 0a2.9 2.9 0 1 0 -5.8 0zM387.7 311.9a2.9 2.9 0 1 0 5.8 0a2.9 2.9 0 1 0 -5.8 0zM391.1 309.3a2.9 2.9 0 1 0 5.8 0a2.9 2.9 0 1 0 -5.8 0zM394.5 312.8a2.9 2.9 0 1 0 5.8 0a2.9 2.9 0 1 0 -5.8 0zM397.9 311.2a2.9 2.9 0 1 0 5.8 0a2.9 2.9 0 1 0 -5.8 0zM401.2 314.9a2.9 2.9 0 1 0 5.8 0a2.9 2.9 0 1 0 -5.8 0zM404.6 300.9a2.9 2.9 0 1 0 5.8 0a2.9 2.9 0 1 0 -5.8 0zM408 304.7a2.9 2.9 0 1 0 5.8 0a2.9 2.9 0 1 0 -5.8 0zM411.4 311.5a2.9 2.9 0 1 0 5.8 0a2.9 2.9 0 1 0 -5.8 0zM414.8 306.8a2.9 2.9 0 1 0 5.8 0a2.9 2.9 0 1 0 -5.8 0zM418.1 300a2.9 2.9 0 1 0 5.8 0a2.9 2.9 0 1 0 -5.8 0zM421.5 309.4a2.9 2.9 0 1 0 5.8 0a2.9 2.9 0 1 0 -5.8 0zM424.9 306.8a2.9 2.9 0 1 0 5.8 0a2.9 2.9 0 1 0 -5.8 0zM428.3 304.7a2.9 2.9 0 1 0 5.8 0a2.9 2.9 0 1 0 -5.8 0zM431.7 298.7a2.9 2.9 0 1 0 5.8 0a2.9 2.9 0 1 0 -5.8 0zM435.1 300a2.9 2.9 0 1 0 5.8 0a2.9 2.9 0 1 0 -5.8 0zM438.4 308.1a2.9 2.9 0 1 0 5.8 0a2.9 2.9 0 1 0 -5.8 0zM441.8 304.7a2.9 2.9 0 1 0 5.8 0a2.9 2.9 0 1 0 -5.8 0zM445.2 293.2a2.9 2.9 0 1 0 5.8 0a2.9 2.9 0 1 0 -5.8 0zM448.6 287.2a2.9 2.9 0 1 0 5.8 0a2.9 2.9 0 1 0 -5.8 0zM452 287.2a2.9 2.9 0 1 0 5.8 0a2.9 2.9 0 1 0 -5.8 0zM455.4 283.8a2.9 2.9 0 1 0 5.8 0a2.9 2.9 0 1 0 -5.8 0zM458.7 285.6a2.9 2.9 0 1 0 5.8 0a2.9 2.9 0 1 0 -5.8 0zM462.1 281.7a2.9 2.9 0 1 0 5.8 0a2.9 2.9 0 1 0 -5.8 0zM465.5 272.3a2.9 2.9 0 1 0 5.8 0a2.9 2.9 0 1 0 -5.8 0zM468.9 260.8a2.9 2.9 0 1 0 5.8 0a2.9 2.9 0 1 0 -5.8 0zM472.3 248.5a2.9 2.9 0 1 0 5.8 0a2.9 2.9 0 1 0 -5.8 0zM475.6 248.5a2.9 2.9 0 1 0 5.8 0a2.9 2.9 0 1 0 -5.8 0zM479 237.8a2.9 2.9 0 1 0 5.8 0a2.9 2.9 0 1 0 -5.8 0zM482.4 234.4a2.9 2.9 0 1 0 5.8 0a2.9 2.9 0 1 0 -5.8 0zM485.8 229.7a2.9 2.9 0 1 0 5.8 0a2.9 2.9 0 1 0 -5.8 0zM489.2 222.9a2.9 2.9 0 1 0 5.8 0a2.9 2.9 0 1 0 -5.8 0zM492.6 207.6a2.9 2.9 0 1 0 5.8 0a2.9 2.9 0 1 0 -5.8 0zM495.9 196.1a2.9 2.9 0 1 0 5.8 0a2.9 2.9 0 1 0 -5.8 0zM499.3 188.4a2.9 2.9 0 1 0 5.8 0a2.9 2.9 0 1 0 -5.8 0zM502.7 184a2.9 2.9 0 1 0 5.8 0a2.9 2.9 0 1 0 -5.8 0zM506.1 178.2a2.9 2.9 0 1 0 5.8 0a2.9 2.9 0 1 0 -5.8 0zM509.5 175.2a2.9 2.9 0 1 0 5.8 0a2.9 2.9 0 1 0 -5.8 0zM512.8 160.8a2.9 2.9 0 1 0 5.8 0a2.9 2.9 0 1 0 -5.8 0zM516.2 153.5a2.9 2.9 0 1 0 5.8 0a2.9 2.9 0 1 0 -5.8 0zM519.6 141.6a2.9 2.9 0 1 0 5.8 0a2.9 2.9 0 1 0 -5.8 0zM523 131a2.9 2.9 0 1 0 5.8 0a2.9 2.9 0 1 0 -5.8 0zM526.4 126.3a2.9 2.9 0 1 0 5.8 0a2.9 2.9 0 1 0 -5.8 0zM529.8 116.5a2.9 2.9 0 1 0 5.8 0a2.9 2.9 0 1 0 -5.8 0zM533.1 105.8a2.9 2.9 0 1 0 5.8 0a2.9 2.9 0 1 0 -5.8 0zM536.5 97.3a2.9 2.9 0 1 0 5.8 0a2.9 2.9 0 1 0 -5.8 0zM539.9 90.9a2.9 2.9 0 1 0 5.8 0a2.9 2.9 0 1 0 -5.8 0zM543.3 82.4a2.9 2.9 0 1 0 5.8 0a2.9 2.9 0 1 0 -5.8 0zM546.7 74.8a2.9 2.9 0 1 0 5.8 0a2.9 2.9 0 1 0 -5.8 0zM550 66.2a2.9 2.9 0 1 0 5.8 0a2.9 2.9 0 1 0 -5.8 0zM553.4 57.7a2.9 2.9 0 1 0 5.8 0a2.9 2.9 0 1 0 -5.8 0zM556.8 46.6a2.9 2.9 0 1 0 5.8 0a2.9 2.9 0 1 0 -5.8 0zM560.2 39.4a2.9 2.9 0 1 0 5.8 0a2.9 2.9 0 1 0 -5.8 0zM563.6 30.9a2.9 2.9 0 1 0 5.8 0a2.9 2.9 0 1 0 -5.8 0zM567 23.2a2.9 2.9 0 1 0 5.8 0a2.9 2.9 0 1 0 -5.8 0zM570.3 16a2.9 2.9 0 1 0 5.8 0a2.9 2.9 0 1 0 -5.8 0zM573.7 8.8a2.9 2.9 0 1 0 5.8 0a2.9 2.9 0 1 0 -5.8 0zM577.1 7.9a2.9 2.9 0 1 0 5.8 0a2.9 2.9 0 1 0 -5.8 0z" stroke-width="1.8" stroke-linejoin="miter" fill="none"/>
</g>
<g fill="none" stroke="#1f4aab">
<polyline points="93,433.7 96.4,433.7 99.8,433.7 103.1,433.7 106.5,433.7 109.9,433.7 113.3,433.7 116.7,433.7 120.1,433.7 123.4,433.7 126.8,433.7 130.2,433.7 133.6,433.7 137,433.7 140.3,433.7 143.7,433.7 147.1,433.7 150.5,433.7 153.9,433.7 157.3,433.7 160.6,433.7 164,433.7 167.4,433.7 170.8,433.7 174.2,433.7 177.5,433.7 180.9,433.7 184.3,433.7 187.7,433.7 191.1,433.7 194.5,433.7 197.8,433.7 201.2,433.7 204.6,433.7 208,433.7 211.4,433.7 214.8,433.7 218.1,433.7 221.5,433.7 224.9,433.7 228.3,433.7 231.7,433.7 235,433.7 238.4,433.7 241.8,433.7 245.2,433.7 248.6,433.7 252,433.7 255.3,433.7 258.7,433.7 262.1,433.7 265.5,433.7 268.9,433.7 272.2,433.7 275.6,433.7 279,433.7 282.4,433.7 285.8,433.7 289.2,433.7 292.5,433.7 295.9,433.7 299.3,433.7 302.7,433.7 306.1,433.7 309.4,433.7 312.8,433.7 316.2,433.7 319.6,433.7 323,433.7 326.4,433.7 329.7,433.7 333.1,433.7 336.5,433.7 339.9,433.7 343.3,433.7 346.6,433.7 350,433.7 353.4,433.7 356.8,433.7 360.2,433.7 363.6,433.7 366.9,433.7 370.3,433.7 373.7,433.7 377.1,433.7 380.5,433.7 383.8,433.7 387.2,433.7 390.6,433.7 394,433.7 397.4,433.7 400.8,433.7 404.1,433.7 407.5,433.7 410.9,433.7 414.3,433.7 417.7,433.7 421,433.7 424.4,433.7 427.8,433.7 431.2,433.7 434.6,433.7 438,433.7 441.3,433.7 444.7,433.7 448.1,433.7 451.5,433.7 454.9,433.7 458.2,433.7 461.6,433.7 465,433.7 468.4,433.7 471.8,433.7 475.2,433.7 478.5,433.7 481.9,433.7 485.3,433.7 488.7,433.7 492.1,433.7 495.5,433.7 498.8,433.7 502.2,433.7 505.6,433.7 509,433.7 512.4,433.7 515.7,433.7 519.1,433.7 522.5,433.7 525.9,433.7 529.3,433.7 532.7,433.7 536,433.7 539.4,433.7 542.8,433.7 546.2,433.7 549.6,433.7 552.9,433.7 556.3,433.7 559.7,433.7 563.1,433.7 566.5,433.7 569.9,433.7 573.2,433.7 576.6,433.7 580,7.9" stroke="#4a6fc4" stroke-width="1.4" stroke-dasharray="8.6 4.6"/>
<path d="M90 433.7l3 -3.4l3 3.4l-3 3.4zM93.4 433.7l3 -3.4l3 3.4l-3 3.4zM96.8 433.7l3 -3.4l3 3.4l-3 3.4zM100.1 433.7l3 -3.4l3 3.4l-3 3.4zM103.5 433.7l3 -3.4l3 3.4l-3 3.4zM106.9 433.7l3 -3.4l3 3.4l-3 3.4zM110.3 433.7l3 -3.4l3 3.4l-3 3.4zM113.7 433.7l3 -3.4l3 3.4l-3 3.4zM117.1 433.7l3 -3.4l3 3.4l-3 3.4zM120.4 433.7l3 -3.4l3 3.4l-3 3.4zM123.8 433.7l3 -3.4l3 3.4l-3 3.4zM127.2 433.7l3 -3.4l3 3.4l-3 3.4zM130.6 433.7l3 -3.4l3 3.4l-3 3.4zM134 433.7l3 -3.4l3 3.4l-3 3.4zM137.3 433.7l3 -3.4l3 3.4l-3 3.4zM140.7 433.7l3 -3.4l3 3.4l-3 3.4zM144.1 433.7l3 -3.4l3 3.4l-3 3.4zM147.5 433.7l3 -3.4l3 3.4l-3 3.4zM150.9 433.7l3 -3.4l3 3.4l-3 3.4zM154.3 433.7l3 -3.4l3 3.4l-3 3.4zM157.6 433.7l3 -3.4l3 3.4l-3 3.4zM161 433.7l3 -3.4l3 3.4l-3 3.4zM164.4 433.7l3 -3.4l3 3.4l-3 3.4zM167.8 433.7l3 -3.4l3 3.4l-3 3.4zM171.2 433.7l3 -3.4l3 3.4l-3 3.4zM174.5 433.7l3 -3.4l3 3.4l-3 3.4zM177.9 433.7l3 -3.4l3 3.4l-3 3.4zM181.3 433.7l3 -3.4l3 3.4l-3 3.4zM184.7 433.7l3 -3.4l3 3.4l-3 3.4zM188.1 433.7l3 -3.4l3 3.4l-3 3.4zM191.5 433.7l3 -3.4l3 3.4l-3 3.4zM194.8 433.7l3 -3.4l3 3.4l-3 3.4zM198.2 433.7l3 -3.4l3 3.4l-3 3.4zM201.6 433.7l3 -3.4l3 3.4l-3 3.4zM205 433.7l3 -3.4l3 3.4l-3 3.4zM208.4 433.7l3 -3.4l3 3.4l-3 3.4zM211.8 433.7l3 -3.4l3 3.4l-3 3.4zM215.1 433.7l3 -3.4l3 3.4l-3 3.4zM218.5 433.7l3 -3.4l3 3.4l-3 3.4zM221.9 433.7l3 -3.4l3 3.4l-3 3.4zM225.3 433.7l3 -3.4l3 3.4l-3 3.4zM228.7 433.7l3 -3.4l3 3.4l-3 3.4zM232 433.7l3 -3.4l3 3.4l-3 3.4zM235.4 433.7l3 -3.4l3 3.4l-3 3.4zM238.8 433.7l3 -3.4l3 3.4l-3 3.4zM242.2 433.7l3 -3.4l3 3.4l-3 3.4zM245.6 433.7l3 -3.4l3 3.4l-3 3.4zM249 433.7l3 -3.4l3 3.4l-3 3.4zM252.3 433.7l3 -3.4l3 3.4l-3 3.4zM255.7 433.7l3 -3.4l3 3.4l-3 3.4zM259.1 433.7l3 -3.4l3 3.4l-3 3.4zM262.5 433.7l3 -3.4l3 3.4l-3 3.4zM265.9 433.7l3 -3.4l3 3.4l-3 3.4zM269.2 433.7l3 -3.4l3 3.4l-3 3.4zM272.6 433.7l3 -3.4l3 3.4l-3 3.4zM276 433.7l3 -3.4l3 3.4l-3 3.4zM279.4 433.7l3 -3.4l3 3.4l-3 3.4zM282.8 433.7l3 -3.4l3 3.4l-3 3.4zM286.2 433.7l3 -3.4l3 3.4l-3 3.4zM289.5 433.7l3 -3.4l3 3.4l-3 3.4zM292.9 433.7l3 -3.4l3 3.4l-3 3.4zM296.3 433.7l3 -3.4l3 3.4l-3 3.4zM299.7 433.7l3 -3.4l3 3.4l-3 3.4zM303.1 433.7l3 -3.4l3 3.4l-3 3.4zM306.4 433.7l3 -3.4l3 3.4l-3 3.4zM309.8 433.7l3 -3.4l3 3.4l-3 3.4zM313.2 433.7l3 -3.4l3 3.4l-3 3.4zM316.6 433.7l3 -3.4l3 3.4l-3 3.4zM320 433.7l3 -3.4l3 3.4l-3 3.4zM323.4 433.7l3 -3.4l3 3.4l-3 3.4zM326.7 433.7l3 -3.4l3 3.4l-3 3.4zM330.1 433.7l3 -3.4l3 3.4l-3 3.4zM333.5 433.7l3 -3.4l3 3.4l-3 3.4zM336.9 433.7l3 -3.4l3 3.4l-3 3.4zM340.3 433.7l3 -3.4l3 3.4l-3 3.4zM343.6 433.7l3 -3.4l3 3.4l-3 3.4zM347 433.7l3 -3.4l3 3.4l-3 3.4zM350.4 433.7l3 -3.4l3 3.4l-3 3.4zM353.8 433.7l3 -3.4l3 3.4l-3 3.4zM357.2 433.7l3 -3.4l3 3.4l-3 3.4zM360.6 433.7l3 -3.4l3 3.4l-3 3.4zM363.9 433.7l3 -3.4l3 3.4l-3 3.4zM367.3 433.7l3 -3.4l3 3.4l-3 3.4zM370.7 433.7l3 -3.4l3 3.4l-3 3.4zM374.1 433.7l3 -3.4l3 3.4l-3 3.4zM377.5 433.7l3 -3.4l3 3.4l-3 3.4zM380.8 433.7l3 -3.4l3 3.4l-3 3.4zM384.2 433.7l3 -3.4l3 3.4l-3 3.4zM387.6 433.7l3 -3.4l3 3.4l-3 3.4zM391 433.7l3 -3.4l3 3.4l-3 3.4zM394.4 433.7l3 -3.4l3 3.4l-3 3.4zM397.8 433.7l3 -3.4l3 3.4l-3 3.4zM401.1 433.7l3 -3.4l3 3.4l-3 3.4zM404.5 433.7l3 -3.4l3 3.4l-3 3.4zM407.9 433.7l3 -3.4l3 3.4l-3 3.4zM411.3 433.7l3 -3.4l3 3.4l-3 3.4zM414.7 433.7l3 -3.4l3 3.4l-3 3.4zM418 433.7l3 -3.4l3 3.4l-3 3.4zM421.4 433.7l3 -3.4l3 3.4l-3 3.4zM424.8 433.7l3 -3.4l3 3.4l-3 3.4zM428.2 433.7l3 -3.4l3 3.4l-3 3.4zM431.6 433.7l3 -3.4l3 3.4l-3 3.4zM435 433.7l3 -3.4l3 3.4l-3 3.4zM438.3 433.7l3 -3.4l3 3.4l-3 3.4zM441.7 433.7l3 -3.4l3 3.4l-3 3.4zM445.1 433.7l3 -3.4l3 3.4l-3 3.4zM448.5 433.7l3 -3.4l3 3.4l-3 3.4zM451.9 433.7l3 -3.4l3 3.4l-3 3.4zM455.2 433.7l3 -3.4l3 3.4l-3 3.4zM458.6 433.7l3 -3.4l3 3.4l-3 3.4zM462 433.7l3 -3.4l3 3.4l-3 3.4zM465.4 433.7l3 -3.4l3 3.4l-3 3.4zM468.8 433.7l3 -3.4l3 3.4l-3 3.4zM472.2 433.7l3 -3.4l3 3.4l-3 3.4zM475.5 433.7l3 -3.4l3 3.4l-3 3.4zM478.9 433.7l3 -3.4l3 3.4l-3 3.4zM482.3 433.7l3 -3.4l3 3.4l-3 3.4zM485.7 433.7l3 -3.4l3 3.4l-3 3.4zM489.1 433.7l3 -3.4l3 3.4l-3 3.4zM492.5 433.7l3 -3.4l3 3.4l-3 3.4zM495.8 433.7l3 -3.4l3 3.4l-3 3.4zM499.2 433.7l3 -3.4l3 3.4l-3 3.4zM502.6 433.7l3 -3.4l3 3.4l-3 3.4zM506 433.7l3 -3.4l3 3.4l-3 3.4zM509.4 433.7l3 -3.4l3 3.4l-3 3.4zM512.7 433.7l3 -3.4l3 3.4l-3 3.4zM516.1 433.7l3 -3.4l3 3.4l-3 3.4zM519.5 433.7l3 -3.4l3 3.4l-3 3.4zM522.9 433.7l3 -3.4l3 3.4l-3 3.4zM526.3 433.7l3 -3.4l3 3.4l-3 3.4zM529.7 433.7l3 -3.4l3 3.4l-3 3.4zM533 433.7l3 -3.4l3 3.4l-3 3.4zM536.4 433.7l3 -3.4l3 3.4l-3 3.4zM539.8 433.7l3 -3.4l3 3.4l-3 3.4zM543.2 433.7l3 -3.4l3 3.4l-3 3.4zM546.6 433.7l3 -3.4l3 3.4l-3 3.4zM549.9 433.7l3 -3.4l3 3.4l-3 3.4zM553.3 433.7l3 -3.4l3 3.4l-3 3.4zM556.7 433.7l3 -3.4l3 3.4l-3 3.4zM560.1 433.7l3 -3.4l3 3.4l-3 3.4zM563.5 433.7l3 -3.4l3 3.4l-3 3.4zM566.9 433.7l3 -3.4l3 3.4l-3 3.4zM570.2 433.7l3 -3.4l3 3.4l-3 3.4zM573.6 433.7l3 -3.4l3 3.4l-3 3.4z" stroke-width="2.1" fill="#1f4aab" fill-opacity="0.78"/>
<path d="M577 7.9l3 -3.4l3 3.4l-3 3.4z" stroke-width="2.1"/>
</g>
<path d="M141.6 17.5H200" stroke="#0f6fba" stroke-width="1.25" stroke-dasharray="8.6 4.6" fill="none"/>
<path d="M168.6 14.3l0 6.3l6.1 -3.1z" stroke="#0f6fba" stroke-width="1.8" fill="none"/>
<path d="M141.6 46H200" stroke="#d8551c" stroke-width="1.5" stroke-dasharray="8.6 4.6" fill="none"/>
<path d="M171 41L172.2 44.4L175.8 44.5L172.9 46.6L173.9 50L171 48L168.1 50L169.1 46.6L166.2 44.5L169.8 44.4z" stroke="#d8551c" stroke-width="0.9" fill="#d8551c"/>
<path d="M141.6 74.2H200" stroke="#ecb021" stroke-width="1.5" stroke-dasharray="8.6 4.6" fill="none"/>
<path d="M168.1 74.2a2.9 2.9 0 1 0 5.8 0a2.9 2.9 0 1 0 -5.8 0z" stroke="#ecb021" stroke-width="1.8" fill="none"/>
<path d="M141.6 102.7H200" stroke="#4a6fc4" stroke-width="1.5" stroke-dasharray="8.6 4.6" fill="none"/>
<path d="M168 102.7l3 -3.4l3 3.4l-3 3.4z" stroke="#1f4aab" stroke-width="2.1" fill="none"/>
<g font-family="'Liberation Serif', 'Noto Serif CJK SC', serif" font-size="30.5" fill="#111" stroke="#111" stroke-width="0.35">
<text x="83.2" y="403.7" text-anchor="end">10</text>
<text x="83.2" y="361.1" text-anchor="end">20</text>
<text x="83.2" y="318.6" text-anchor="end">30</text>
<text x="83.2" y="276" text-anchor="end">40</text>
<text x="83.2" y="233.4" text-anchor="end">50</text>
<text x="83.2" y="190.8" text-anchor="end">60</text>
<text x="83.2" y="148.2" text-anchor="end">70</text>
<text x="83.2" y="105.7" text-anchor="end">80</text>
<text x="83.2" y="63.1" text-anchor="end">90</text>
<text x="83.2" y="20.5" text-anchor="end">100</text>
<text x="74.7" y="475" text-anchor="middle">0</text>
<text x="194.7" y="477" text-anchor="middle">0.2</text>
<text x="292.1" y="477" text-anchor="middle">0.4</text>
<text x="389.5" y="477" text-anchor="middle">0.6</text>
<text x="486.9" y="477" text-anchor="middle">0.8</text>
<text x="581" y="477" text-anchor="middle">1</text>
<text x="664.4" y="477">1.2</text>
<text x="208.6" y="24.9" font-size="29"><tspan font-style="italic">p</tspan><tspan font-size="20" dx="1.8" dy="9">3</tspan><tspan dy="-9">=0.1</tspan></text>
<text x="208.6" y="53.4" font-size="29"><tspan font-style="italic">p</tspan><tspan font-size="20" dx="1.8" dy="9">3</tspan><tspan dy="-9">=0.4</tspan></text>
<text x="208.6" y="81.6" font-size="29"><tspan font-style="italic">p</tspan><tspan font-size="20" dx="1.8" dy="9">3</tspan><tspan dy="-9">=0.7</tspan></text>
<text x="208.6" y="110.1" font-size="29"><tspan font-style="italic">p</tspan><tspan font-size="20" dx="1.8" dy="9">3</tspan><tspan dy="-9">=1</tspan></text>
<text x="418.5" y="520.8" text-anchor="middle" font-size="30" letter-spacing="-1">密度</text>
<text transform="translate(24.6 279.3) rotate(-90)" font-size="27.5" letter-spacing="-1">拥堵率</text>
<text transform="translate(26.6 196.3) rotate(-90) skewX(-24) scale(1 0.92)" font-size="30">/</text>
<text transform="translate(26.6 177) rotate(-90)" font-size="30">%</text>
</g>
</svg>
</body>
</html>
